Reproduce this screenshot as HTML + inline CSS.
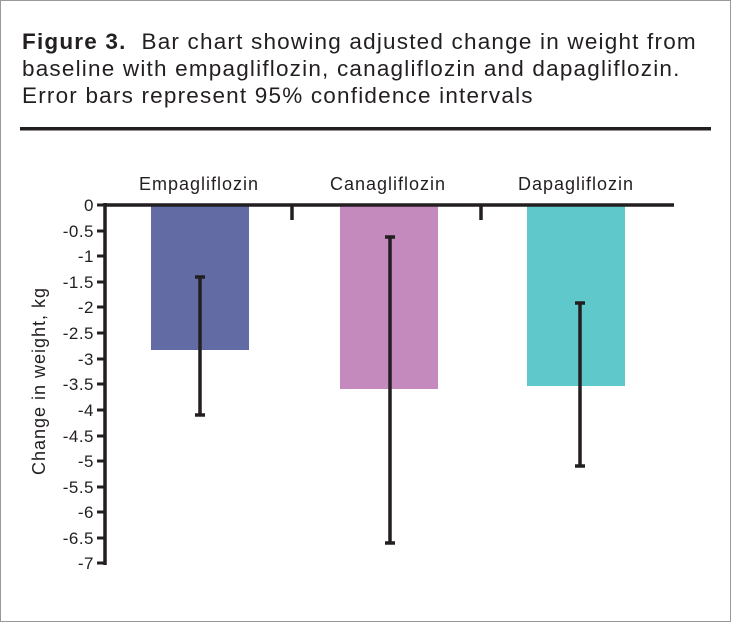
<!DOCTYPE html><html><head><style>
body{margin:0;background:#fff;}
.f{position:absolute;left:0;top:0;width:729px;height:620px;border:1px solid #999;background:#fff;font-family:"Liberation Sans",sans-serif;}
.t{position:absolute;left:21px;top:27px;font-size:22.5px;letter-spacing:1.2px;line-height:27px;color:#231f20;white-space:nowrap;}
</style></head><body><div class="f">
<div class="t"><b>Figure 3.</b>&nbsp; Bar chart showing adjusted change in weight from<br>baseline with empagliflozin, canagliflozin and dapagliflozin.<br>Error bars represent 95% confidence intervals</div>
</div>
<svg width="731" height="622" style="position:absolute;left:0;top:0" font-family="Liberation Sans, sans-serif" fill="#231f20">
<rect x="20" y="127" width="691" height="3.5" fill="#231f20"/>
<rect x="151" y="206" width="98" height="144" fill="#626ba3"/>
<rect x="340" y="206" width="98" height="183" fill="#c489bd"/>
<rect x="527" y="206" width="98" height="180" fill="#5ec8cb"/>
<g stroke="#231f20" stroke-width="3.5" fill="none">
<line x1="105" y1="205" x2="674" y2="205"/>
<line x1="105" y1="203" x2="105" y2="565"/>
<line x1="292" y1="205" x2="292" y2="220"/>
<line x1="481" y1="205" x2="481" y2="220"/>
<line x1="200" y1="277" x2="200" y2="415"/><line x1="195" y1="277" x2="205" y2="277"/><line x1="195" y1="415" x2="205" y2="415"/>
<line x1="390" y1="237" x2="390" y2="543"/><line x1="385" y1="237" x2="395" y2="237"/><line x1="385" y1="543" x2="395" y2="543"/>
<line x1="580" y1="303" x2="580" y2="466"/><line x1="575" y1="303" x2="585" y2="303"/><line x1="575" y1="466" x2="585" y2="466"/>
</g>
<g stroke="#231f20" stroke-width="3">
<line x1="97" y1="205" x2="105" y2="205"/><line x1="97" y1="231" x2="105" y2="231"/><line x1="97" y1="256" x2="105" y2="256"/><line x1="97" y1="282" x2="105" y2="282"/><line x1="97" y1="307" x2="105" y2="307"/><line x1="97" y1="333" x2="105" y2="333"/><line x1="97" y1="359" x2="105" y2="359"/><line x1="97" y1="384" x2="105" y2="384"/><line x1="97" y1="410" x2="105" y2="410"/><line x1="97" y1="436" x2="105" y2="436"/><line x1="97" y1="461" x2="105" y2="461"/><line x1="97" y1="487" x2="105" y2="487"/><line x1="97" y1="512" x2="105" y2="512"/><line x1="97" y1="538" x2="105" y2="538"/><line x1="97" y1="563" x2="105" y2="563"/>
</g>
<g font-size="17" text-anchor="end" letter-spacing="0.5">
<text x="94" y="211">0</text><text x="94" y="237">-0.5</text><text x="94" y="262">-1</text><text x="94" y="288">-1.5</text><text x="94" y="313">-2</text><text x="94" y="339">-2.5</text><text x="94" y="365">-3</text><text x="94" y="390">-3.5</text><text x="94" y="416">-4</text><text x="94" y="442">-4.5</text><text x="94" y="467">-5</text><text x="94" y="493">-5.5</text><text x="94" y="518">-6</text><text x="94" y="544">-6.5</text><text x="94" y="569">-7</text>
</g>
<g font-size="18" text-anchor="middle" letter-spacing="1">
<text x="199" y="190">Empagliflozin</text><text x="388" y="190">Canagliflozin</text><text x="576" y="190">Dapagliflozin</text>
<text transform="translate(45,381) rotate(-90)">Change in weight, kg</text>
</g>
</svg>
</body></html>
